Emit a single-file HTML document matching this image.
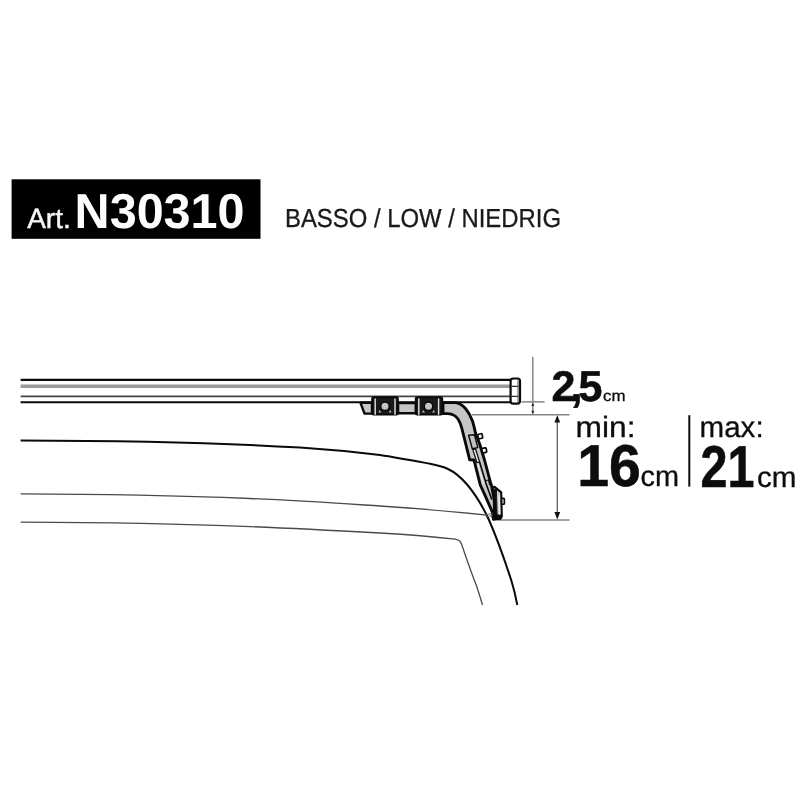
<!DOCTYPE html>
<html lang="en">
<head>
<meta charset="utf-8">
<title>Art. N30310 - BASSO / LOW / NIEDRIG</title>
<style>
html,body{margin:0;padding:0;background:#fff;}
body{width:800px;height:800px;overflow:hidden;position:relative;}
svg{position:absolute;left:0;top:0;display:block;filter:grayscale(1);}
text{font-family:"Liberation Sans",sans-serif;text-rendering:geometricPrecision;}
.b{font-weight:bold;}
#measures .b{stroke:#0d0d0d;stroke-width:0.6px;stroke-linejoin:round;}
#measures tspan:not(.b){stroke:#0d0d0d;stroke-width:0.3px;}
#measures .r{stroke:#0d0d0d;stroke-width:0.3px;}
</style>
</head>
<body>
<svg width="800" height="800" viewBox="0 0 800 800">
<rect x="0" y="0" width="800" height="800" fill="#ffffff"/>

<!-- label -->
<g id="label">
<rect x="11.6" y="179.3" width="248.9" height="59.5" fill="#000"/>
<text y="228" fill="#fdfdfd"><tspan x="27.2" dy="-0.1" font-size="28" fill="#f6f6f6" stroke="#f6f6f6" stroke-width="0.45" textLength="43.5" lengthAdjust="spacingAndGlyphs">Art.</tspan> <tspan class="b" x="74.6" dy="0.1" font-size="49" textLength="170" lengthAdjust="spacingAndGlyphs">N30310</tspan></text>
<text x="285" y="227.4" font-size="26" fill="#1a1a1a" stroke="#1a1a1a" stroke-width="0.3" textLength="276" lengthAdjust="spacingAndGlyphs">BASSO / LOW / NIEDRIG</text>
</g>

<!-- car -->
<g id="car" fill="none" stroke-linecap="butt" stroke-linejoin="round">
<path d="M20.6 440.4 C110 440.6 200 441.5 300 447.6 C330 449.6 355 452 380 455 C397 457.6 414 460.8 430 463.75 C436 464.9 443 466.6 448 469 C455 472.2 461.5 478 467.5 485 C475 494 483 507 489 520 C496 536 504 558 511.2 580 C514 589 516 598 517.3 605" stroke="#0a0a0a" stroke-width="2"/>
<path d="M20.6 493.9 C100 494.1 180 495.7 250 498.5 C300 500.6 340 503.4 380 506 C420 508.6 460 512.4 487 515.1" stroke="#4a4a4a" stroke-width="1.3"/>
<path d="M20.6 522.2 C100 522.5 180 523.9 250 526.6 C300 528.6 340 530.8 380 533 C410 534.8 440 537.5 455 539.2 C459 539.8 460.5 541 461.5 544 C466 557 471 572 476.2 585 C479 593 481 600 482.5 605" stroke="#4a4a4a" stroke-width="1.3"/>
</g>

<!-- bar -->
<g id="bar" fill="none">
<path d="M20.6 379.9 H511" stroke="#0a0a0a" stroke-width="2.4"/>
<path d="M20.6 386.2 H511" stroke="#9a9a9a" stroke-width="3.4"/>
<path d="M20.6 396.3 H511" stroke="#444" stroke-width="1.8"/>
<path d="M20.6 402.3 H511" stroke="#0a0a0a" stroke-width="2"/>
<rect x="510.6" y="378.5" width="9.4" height="25.2" rx="2.6" ry="2.6" fill="#fff" stroke="#0a0a0a" stroke-width="2.2"/>
<path d="M511.5 386.3 H519.5 M511.5 396.3 H519.5" stroke="#2a2a2a" stroke-width="1.3"/>
<path d="M518 380.5 V402" stroke="#666" stroke-width="1.2"/>
</g>

<!-- dimension lines -->
<g id="dims" fill="none" stroke="#858585" stroke-width="1.5">
<path d="M532.8 357 V414.6"/>
<path d="M521.5 401.9 H544.6"/>
<path d="M472 414.8 H569.5"/>
<path d="M497 519.9 H569.5"/>
<path d="M557.3 417 V517" stroke="#6a6a6a" stroke-width="1.4"/>
<path d="M557.3 415.3 L554.4 422.6 H560.2 Z M557.3 519.4 L554.4 512.1 H560.2 Z" fill="#111" stroke="none"/>
<path d="M532.8 402.8 L531.4 406 H534.2 Z M532.8 414 L531.4 410.8 H534.2 Z" fill="#222" stroke="none"/>
</g>

<!-- bracket -->
<g id="bracket" stroke-linejoin="round" stroke-linecap="round">
<!-- foot + rail -->
<path d="M360.5 402.8 H372 V413.6 H364.5 Z" fill="#c6c6c6" stroke="#0a0a0a" stroke-width="2.4"/>
<rect x="398" y="403" width="18" height="10.2" fill="#c6c6c6" stroke="#0a0a0a" stroke-width="2.6"/>
<!-- end clamp -->
<path d="M491.6 487.3 L494.6 486.9 L501.2 492.4 L501.8 516.6 L500.4 518.8 L493.3 519.6 L492.4 516.6 Z" fill="#cfcfcf" stroke="#0a0a0a" stroke-width="2.1"/>
<path d="M493.4 489 L496.4 489.5 L497.2 517 L494 518 Z" fill="#161616" stroke="#161616" stroke-width="1"/>
<path d="M492.6 515.4 L501.6 514.8 L500.6 519 L493.2 519.8 Z" fill="#0a0a0a" stroke="#0a0a0a" stroke-width="1"/>
<path d="M499.2 496 L499.6 514" stroke="#ededed" stroke-width="1.4" fill="none"/>
<rect x="501.6" y="498.4" width="2.8" height="5.8" rx="0.8" fill="#ddd" stroke="#0a0a0a" stroke-width="1.6"/>
<!-- arm -->
<path d="M443 402.6 H455 C459 402.8 462.5 405 465.5 408.5 C468.5 412 470.8 416.5 472.5 421 C473.5 424 474.5 428.5 475.5 433 L480 445 L484.5 460 L490.5 482.5 L491.6 486 L494.2 500 L494.6 515 L493.8 515.4 L485.5 496.3 L480.3 485 L476.5 470 L474 460 L469.7 459.8 L465.5 443 L463.5 435 L462 429 C461 425 460 422 458 419 C455.5 415.5 452 413.8 448 413.6 H443 Z" fill="#c6c6c6" stroke="#0a0a0a" stroke-width="2.9"/>
<!-- lower arm inner lines -->
<path d="M479.6 462 L486.2 484 L491.6 499" stroke="#0a0a0a" stroke-width="1.6" fill="none"/>
<path d="M477.4 463 L483.6 484" stroke="#f0f0f0" stroke-width="1.1" fill="none"/>
<path d="M486 480.5 L488.6 480 L489.6 484.6" stroke="#0a0a0a" stroke-width="1.2" fill="none"/>
<!-- clamps -->
<rect x="372.2" y="397.2" width="25.6" height="17.2" rx="1.5" fill="#1a1a1a" stroke="#0a0a0a" stroke-width="2"/>
<rect x="415.8" y="397.2" width="26.4" height="17.2" rx="1.5" fill="#1a1a1a" stroke="#0a0a0a" stroke-width="2"/>
<path d="M375.2 399 V414.2 M395 399 V414.2 M418.8 399 V414.2 M438.6 399 V414.2" stroke="#e4e4e4" stroke-width="1.4" fill="none"/>
<path d="M379.4 410 L381.4 412.6 H378.6 Z M390.6 410 L388.6 412.6 H391.4 Z M423 410 L425 412.6 H422.2 Z M434 410 L432 412.6 H434.8 Z" fill="#bdbdbd" stroke="none"/>
<circle cx="385" cy="406.3" r="4.3" fill="#c4c4c4" stroke="#0a0a0a" stroke-width="1.6"/>
<circle cx="428.5" cy="406.3" r="4.3" fill="#c4c4c4" stroke="#0a0a0a" stroke-width="1.6"/>
<!-- nubs -->
<rect x="478" y="434" width="4.4" height="4.6" rx="1" fill="#fff" stroke="#0a0a0a" stroke-width="1.7" transform="rotate(-12 480 436)"/>
<rect x="482" y="448.2" width="4.4" height="4.6" rx="1" fill="#fff" stroke="#0a0a0a" stroke-width="1.7" transform="rotate(-12 484 450)"/>
<!-- slider -->
<path d="M468.6 435.3 L474.4 434.7 L477.8 447.6 L472.3 448.7 Z" fill="#c2c2c2" stroke="#0a0a0a" stroke-width="1.4"/>
<path d="M472.8 449.6 L475.6 449 L479.6 462 L477 462.8 Z" fill="#e6e6e6" stroke="#0a0a0a" stroke-width="1.2"/>
<!-- gutter sliver -->
<path d="M486 514.6 L492.4 513.4 M487.5 516.4 L492.6 515.6" stroke="#666" stroke-width="0.9" fill="none"/>
</g>

<!-- measures -->
<g id="measures" fill="#0d0d0d">
<text y="401.3"><tspan class="b" x="551.5 570.5 578.4" font-size="43">2,5</tspan><tspan x="603" font-size="15.5" textLength="22.5" lengthAdjust="spacingAndGlyphs">cm</tspan></text>
<text class="r" x="575.6" y="437.1" font-size="29.4" textLength="60" lengthAdjust="spacingAndGlyphs">min:</text>
<text y="486.2"><tspan class="b" x="577.2" font-size="59" textLength="63.6" lengthAdjust="spacingAndGlyphs">16</tspan><tspan x="640.5" font-size="29" textLength="38.5" lengthAdjust="spacingAndGlyphs">cm</tspan></text>
<rect x="688.3" y="415.2" width="2" height="71.4"/>
<text class="r" x="699.6" y="437" font-size="29.4" textLength="64" lengthAdjust="spacingAndGlyphs">max:</text>
<text y="486.6"><tspan class="b" x="700.5" font-size="59" textLength="54" lengthAdjust="spacingAndGlyphs">21</tspan><tspan x="757" font-size="29" textLength="39.5" lengthAdjust="spacingAndGlyphs">cm</tspan></text>
</g>
</svg>
</body>
</html>
